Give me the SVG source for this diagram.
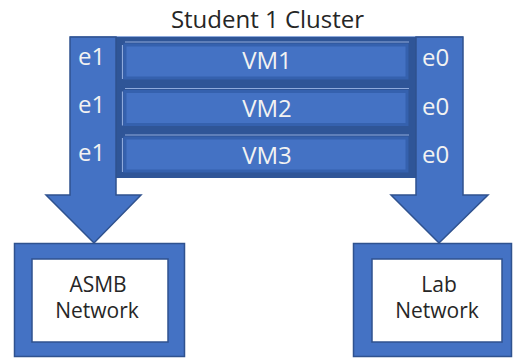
<svg xmlns="http://www.w3.org/2000/svg" width="514" height="358" viewBox="0 0 514 358">
<style>
text{font-family:"Open Sans","Noto Sans","Liberation Sans",sans-serif;font-size:24px}
.lt{fill:#F2F2F2}
.dk{fill:#262626}
.mid{text-anchor:middle}
.net{font-size:21px}
.arrow{fill:#4472C4;stroke:#2F528F;stroke-width:1.5;stroke-linejoin:miter}
.vm{fill:#4472C4;stroke:#3561AE;stroke-width:3}
.hl{stroke:#8FAADC;stroke-width:1.2;fill:none}
.outer{fill:#4472C4;stroke:#2F528F;stroke-width:1.5}
.inner{fill:#FFFFFF;stroke:#2F528F;stroke-width:1.5}
</style>
<rect width="514" height="358" fill="#FFFFFF"/>
<text class="dk mid" x="267.5" y="28">Student 1 Cluster</text>
<g id="cluster">
<rect x="70" y="37" width="393" height="141" fill="#2F5597"/>
<line class="hl" x1="70" y1="36.5" x2="463" y2="36.5"/>
</g>
<g id="connectors">
<polygon id="arrow-e1" class="arrow" points="70,37 116,37 116,195 141,195 94,243 46,195 70,195"/>
<polygon id="arrow-e0" class="arrow" points="416,37 463,37 463,195 488,195 439,243 391,195 416,195"/>
<text class="lt" x="78" y="65">e1</text>
<text class="lt" x="78" y="113">e1</text>
<text class="lt" x="78" y="161">e1</text>
<text class="lt" x="422" y="66">e0</text>
<text class="lt" x="422" y="115">e0</text>
<text class="lt" x="422" y="163">e0</text>
</g>
<g id="vm1">
<line class="hl" x1="125" y1="42" x2="409" y2="42"/>
<line class="hl" x1="122.5" y1="45" x2="122.5" y2="79"/>
<rect class="vm" x="125" y="45" width="282" height="33"/>
<text class="lt mid" x="267" y="69">VM1</text>
</g>
<g id="vm2">
<line class="hl" x1="125" y1="88.5" x2="409" y2="88.5"/>
<line class="hl" x1="122.5" y1="91.5" x2="122.5" y2="125.5"/>
<rect class="vm" x="125" y="91.5" width="282" height="33"/>
<text class="lt mid" x="267" y="116.5">VM2</text>
</g>
<g id="vm3">
<line class="hl" x1="125" y1="135" x2="409" y2="135"/>
<line class="hl" x1="122.5" y1="138" x2="122.5" y2="172"/>
<rect class="vm" x="125" y="138" width="282" height="33"/>
<text class="lt mid" x="267" y="164">VM3</text>
</g>
<g id="asmb">
<rect class="outer" x="14.5" y="243.5" width="170" height="113"/>
<rect class="inner" x="32" y="259" width="136" height="83"/>
<text class="dk mid net" x="98" y="292">ASMB</text>
<text class="dk mid net" x="97" y="318">Network</text>
</g>
<g id="lab">
<rect class="outer" x="353.5" y="243.5" width="158" height="113"/>
<rect class="inner" x="372" y="259" width="130" height="83"/>
<text class="dk mid net" x="439" y="292">Lab</text>
<text class="dk mid net" x="437" y="318">Network</text>
</g>
</svg>
